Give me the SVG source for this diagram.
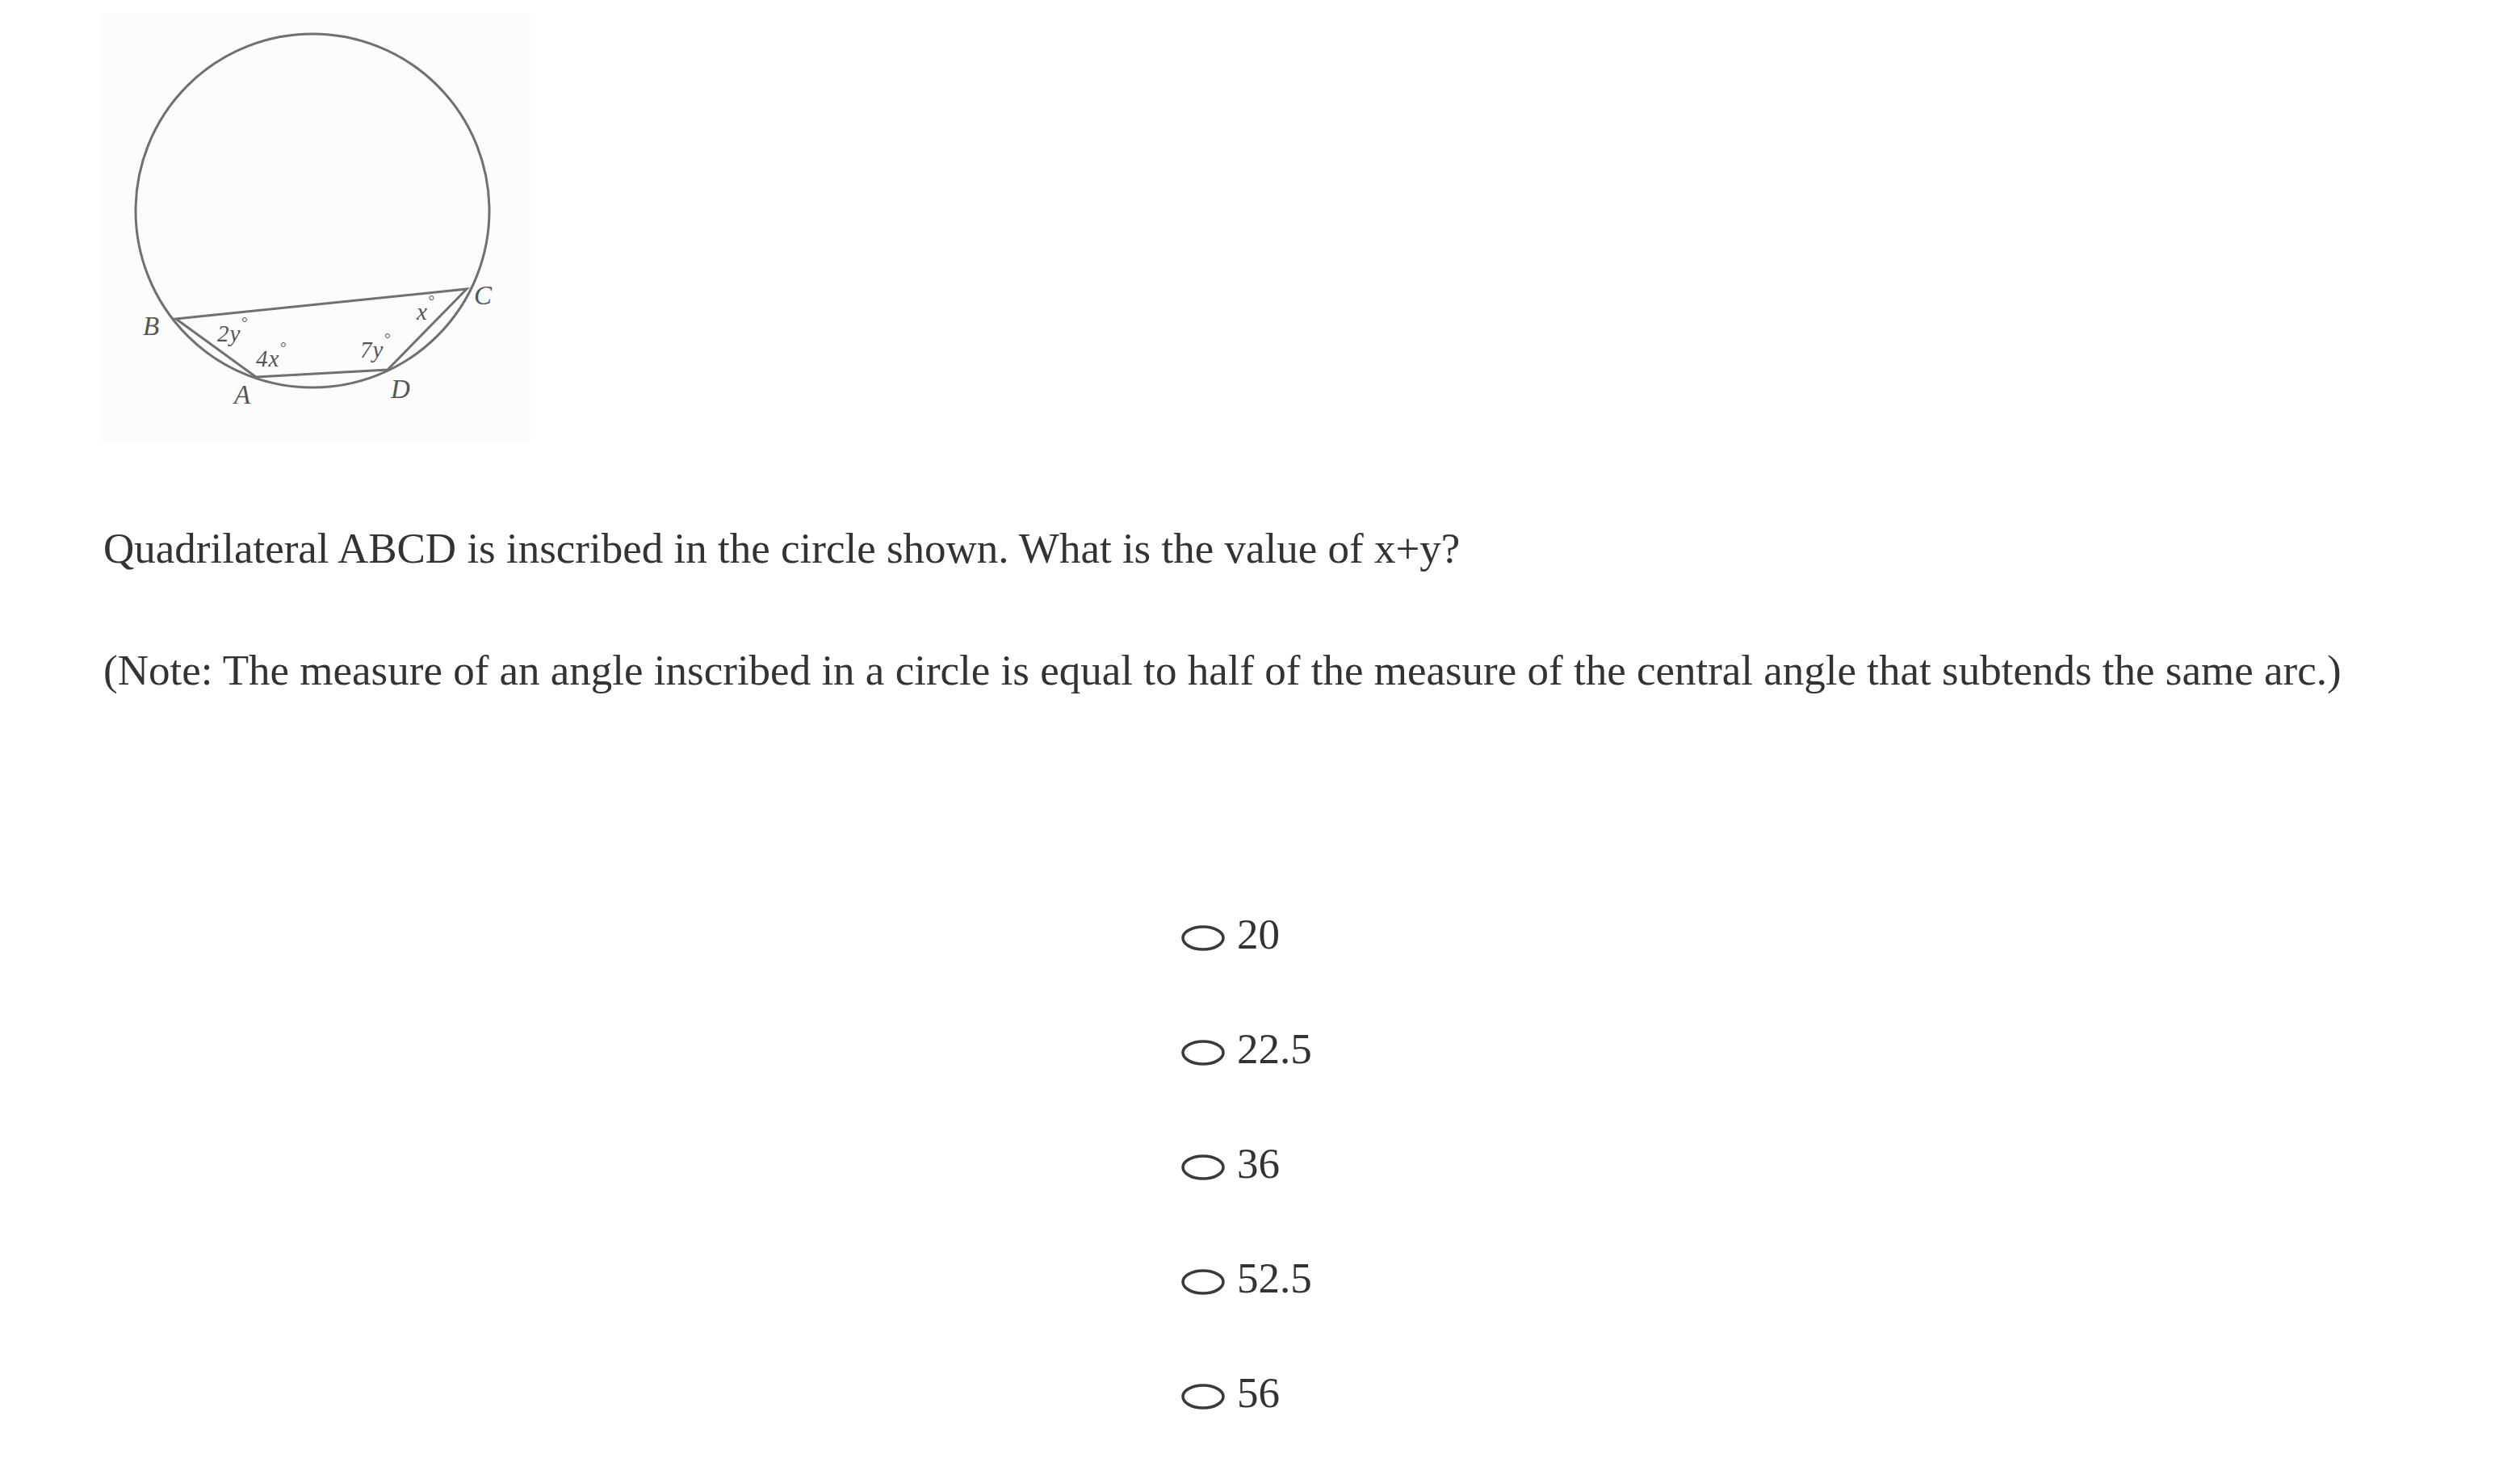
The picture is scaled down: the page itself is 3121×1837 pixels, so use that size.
<svg xmlns="http://www.w3.org/2000/svg" width="3121" height="1837" viewBox="0 0 3121 1837">
<style>
.fig{fill:none;stroke:#707070;stroke-width:3}
.pt{font-family:"Liberation Serif",serif;font-style:italic;font-size:33px;fill:#555}
.ang{font-family:"Liberation Serif",serif;font-style:italic;font-size:29px;fill:#555}
.deg{font-size:19px}
.q{font-family:"Liberation Serif",serif;font-size:53px;fill:#333}
.radio{fill:none;stroke:#3a3a3a;stroke-width:3.5}
</style>
<rect width="3121" height="1837" fill="#fff"/>
<g id="figure">
<rect x="123" y="16" width="534" height="531" fill="#fcfcfc"/>
<circle class="fig" cx="387" cy="261" r="219"/>
<g id="connectors">
<polygon class="fig" points="218,395 578,358 480,458 317,467"/>
</g>
<text class="pt" x="177" y="415">B</text>
<text class="pt" x="587" y="377">C</text>
<text class="pt" x="290" y="500">A</text>
<text class="pt" x="484" y="493">D</text>
<text class="ang" x="269" y="423">2<tspan dx="1">y</tspan><tspan class="deg" dx="1" dy="-17">°</tspan></text>
<text class="ang" x="317" y="454">4<tspan dx="1">x</tspan><tspan class="deg" dx="1" dy="-17">°</tspan></text>
<text class="ang" x="446" y="443">7<tspan dx="1">y</tspan><tspan class="deg" dx="1" dy="-17">°</tspan></text>
<text class="ang" x="516" y="396">x<tspan class="deg" dx="1" dy="-17">°</tspan></text>
</g>
<g id="question">
<text class="q" x="128" y="697">Quadrilateral ABCD is inscribed in the circle shown. What is the value of x+y?</text>
<text class="q" x="128" y="848">(Note: The measure of an angle inscribed in a circle is equal to half of the measure of the central angle that subtends the same arc.)</text>
</g>
<g id="options">
<g id="opt1"><ellipse class="radio" cx="1490" cy="1162" rx="25" ry="14"/><text class="q" x="1532" y="1175">20</text></g>
<g id="opt2"><ellipse class="radio" cx="1490" cy="1304" rx="25" ry="14"/><text class="q" x="1532" y="1317">22.5</text></g>
<g id="opt3"><ellipse class="radio" cx="1490" cy="1446" rx="25" ry="14"/><text class="q" x="1532" y="1459">36</text></g>
<g id="opt4"><ellipse class="radio" cx="1490" cy="1588" rx="25" ry="14"/><text class="q" x="1532" y="1601">52.5</text></g>
<g id="opt5"><ellipse class="radio" cx="1490" cy="1730" rx="25" ry="14"/><text class="q" x="1532" y="1743">56</text></g>
</g>
</svg>
